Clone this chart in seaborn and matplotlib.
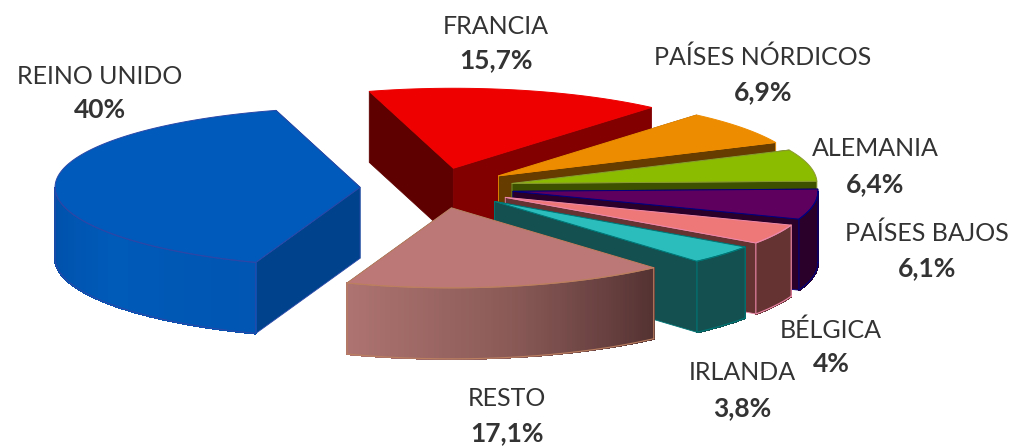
import numpy as np
import matplotlib
matplotlib.use("Agg")
import matplotlib.pyplot as plt
import seaborn as sns

categories = ["REINO UNIDO", "FRANCIA", "PAÍSES NÓRDICOS", "ALEMANIA",
              "PAÍSES BAJOS", "BÉLGICA", "IRLANDA", "RESTO"]
shares = [40, 15.7, 6.9, 6.4, 6.1, 4, 3.8, 17.1]

top_colors = ["#005abb", "#ee0000", "#ee8c00", "#8cbc00",
              "#5e005e", "#ee7777", "#2bbcbc", "#bc7777"]
start_wall_colors = ["#00428c", "#5f0000", "#663c00", "#3c5000",
                     "#2a002a", "#663333", "#145050", "#543232"]
end_wall_colors = ["#00428c", "#820000", "#663c00", "#3c5000",
                   "#2a002a", "#663333", "#145050", "#543232"]
outer_wall_colors = [["#0050a8", "#005ab8", "#0056b2"], ["#820000"], ["#663c00"], ["#3c5000"],
                     ["#2a002a"], ["#663333"], ["#145050"], ["#ad7370", "#8a5a57", "#543232"]]
edge_colors = ["#2a48a8", "#ee0000", "#ee8c00", "#8a9a30",
               "#00007f", "#ee88aa", "#007777", "#bc8060"]

# label centres in pixels: name line, then percentage line
label_pos = [(100, 76, 110), (496, 26, 60), (763, 57, 92), (875, 149, 184),
             (927, 233, 268), (831, 330, 364), (742, 373, 408), (507, 398, 433)]

# projected pie geometry
cx, cy = 437, 188
rx, ry = 305, 80
depth = 71
explode = 77
first_angle = 250


def point(ox, oy, theta):
    return ox + rx * np.cos(theta), oy - ry * np.sin(theta)


def wall(ax, x0, y0, x1, y1, color, edge=None, smooth=True):
    ax.fill([x0, x1, x1, x0], [y0, y1, y1 + depth, y0 + depth], facecolor=color,
            edgecolor=edge or color, lw=0.6 if smooth else 1.0, antialiased=smooth)


sns.set_theme(style="white")
plt.rcParams["font.family"] = ["Lato", "DejaVu Sans"]

fig, ax = plt.subplots(figsize=(10.12, 4.47), dpi=100)
fig.subplots_adjust(0, 0, 1, 1)
ax.set_xlim(0, 1012)
ax.set_ylim(447, 0)
ax.axis("off")

angle = first_angle
for i, share in enumerate(shares):
    t0 = np.radians(angle)
    t1 = np.radians(angle - share * 3.6)
    angle -= share * 3.6
    mid = (t0 + t1) / 2
    # slices are pulled out along the same projected ellipse
    ox = cx + explode * np.cos(mid)
    oy = cy - explode * ry / rx * np.sin(mid)
    x0, y0 = point(ox, oy, t0)
    x1, y1 = point(ox, oy, t1)

    # the far radial wall goes first so it never shows through the near one
    if i == 0:
        wall(ax, ox, oy, x1, y1, end_wall_colors[i])
        wall(ax, ox, oy, x0, y0, start_wall_colors[i], edge_colors[i])
    else:
        wall(ax, ox, oy, x0, y0, start_wall_colors[i])
        wall(ax, ox, oy, x1, y1, end_wall_colors[i], edge_colors[i] if 2 <= i <= 6 else None)

    # outer wall, only the part that faces the viewer
    arc = np.linspace(t0, t1, 121)
    arc = arc[np.sin(arc) <= 0.001]
    if len(arc) > 1:
        stops = outer_wall_colors[i] * (2 if len(outer_wall_colors[i]) == 1 else 1)
        shades = sns.blend_palette(stops, n_colors=len(arc) - 1)
        if np.cos(arc[0]) > np.cos(arc[-1]):
            shades = shades[::-1]
        for j in range(len(arc) - 1):
            xa, ya = point(ox, oy, arc[j])
            xb, yb = point(ox, oy, arc[j + 1])
            wall(ax, xa, ya, xb, yb, shades[j], smooth=False)
        xs, ys = point(ox, oy, arc)
        ax.plot(np.r_[xs, xs[::-1], xs[0]], np.r_[ys + depth, ys[::-1], ys[0] + depth],
                color=edge_colors[i], lw=0.8)

    # top face
    arc = np.linspace(t0, t1, 200)
    xs, ys = point(ox, oy, arc)
    ax.fill(np.r_[ox, xs], np.r_[oy, ys], facecolor=top_colors[i],
            edgecolor=edge_colors[i], lw=0.7, joinstyle="round")

for name, share, (x, y_name, y_share) in zip(categories, shares, label_pos):
    ax.text(x, y_name, name, ha="center", va="center", fontsize=18, color="#333333")
    ax.text(x, y_share, f"{share:g}%".replace(".", ","), ha="center", va="center",
            fontsize=19, fontweight="bold", color="#333333")

fig.savefig("out.png", dpi=100)
